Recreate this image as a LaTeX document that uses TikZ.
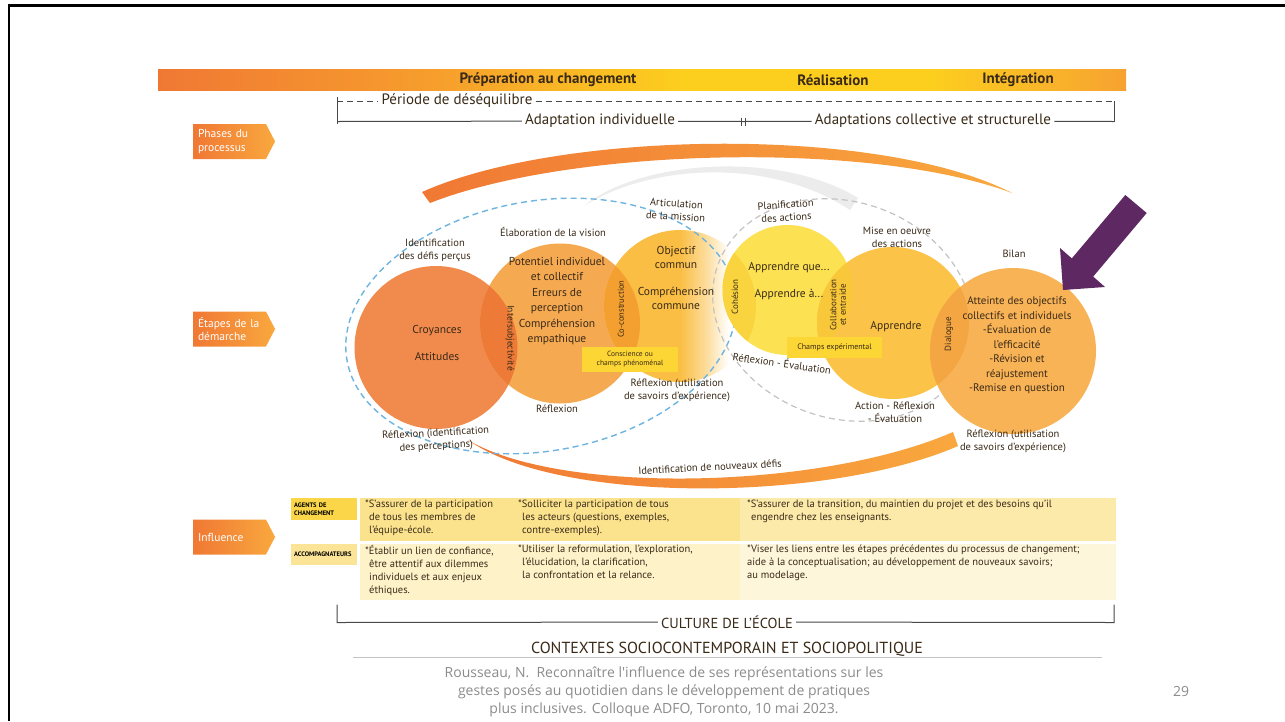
\documentclass[tikz,border=0pt]{standalone}
\usepackage{fontspec}
\setmainfont{PT Sans}
\newfontfamily\footfont{Open Sans}
\usetikzlibrary{positioning}
\usetikzlibrary{shapes}
\definecolor{d00}{RGB}{58,42,24}
\definecolor{d01}{RGB}{240,120,52}
\definecolor{d02}{RGB}{249,168,62}
\definecolor{d03}{RGB}{253,210,32}
\definecolor{d04}{RGB}{72,72,72}
\definecolor{d05}{RGB}{140,140,140}
\definecolor{d06}{RGB}{94,40,98}
\definecolor{d07}{RGB}{110,180,225}
\definecolor{d08}{RGB}{195,195,195}
\definecolor{d09}{RGB}{236,236,236}
\definecolor{b01}{RGB}{247,160,44}
\definecolor{b02}{RGB}{252,206,30}
\definecolor{b03}{RGB}{249,180,42}
\definecolor{b04}{RGB}{247,162,48}
\definecolor{k01}{RGB}{241,139,77}
\definecolor{k02}{RGB}{245,170,82}
\definecolor{k03}{RGB}{250,190,68}
\definecolor{k04}{RGB}{252,225,82}
\definecolor{k05}{RGB}{251,196,72}
\definecolor{k06}{RGB}{248,179,86}
\colorlet{k07}{k03!50!white}
\definecolor{l12}{RGB}{237,122,54}
\definecolor{l23}{RGB}{243,160,48}
\definecolor{l34}{RGB}{250,212,62}
\definecolor{l45}{RGB}{249,200,58}
\definecolor{l56}{RGB}{244,166,66}
\definecolor{y01}{RGB}{252,214,52}
\definecolor{t01}{RGB}{250,214,72}
\definecolor{t02}{RGB}{251,228,150}
\definecolor{t03}{RGB}{251,227,142}
\definecolor{t04}{RGB}{252,234,170}
\definecolor{t05}{RGB}{254,242,200}
\definecolor{t06}{RGB}{254,246,218}
\pgfdeclarehorizontalshading{barfill}{100bp}{color(0bp)=(d01); color(25bp)=(d01);
    color(40bp)=(b01); color(52bp)=(b02); color(65bp)=(b02); color(71bp)=(b03);
    color(75bp)=(b04); color(100bp)=(b04)}
\pgfdeclarehorizontalshading{fadec}{100bp}{color(0bp)=(k03); color(50bp)=(k03);
    color(59bp)=(k07); color(66bp)=(white); color(100bp)=(white)}
\newcommand{\fsz}[2]{\fontsize{#1}{#2}\selectfont}
\tikzstyle{tab} = [signal, signal to=east, signal pointer angle=125,
    minimum width=82, minimum height=35, inner sep=0, text width=63,
    align=left, left color=d01, right color=d02, text=white,
    font=\fsz{11.5}{13.5}]
\tikzstyle{circ} = [circle, inner sep=0]
\tikzstyle{hd} = [font=\bfseries\fsz{15}{17}, text=d00, inner sep=0]
\tikzstyle{brtxt} = [font=\fsz{15}{17}, text=d00, inner sep=3]
\tikzstyle{brk} = [draw=d04, line width=1]
\tikzstyle{dsh} = [dash pattern=on 6pt off 4pt, line width=1.4]
\tikzstyle{lbl} = [font=\fsz{10.5}{13}, text=d00, align=center, inner sep=0]
\tikzstyle{txt} = [font=\fsz{11.5}{14.5}, text=d00, align=center, inner sep=0]
\tikzstyle{lens} = [font=\fsz{9}{9.5}, text=d00, align=center, inner sep=0]
\tikzstyle{ybox} = [fill=y01, font=\fsz{7.5}{9}, text=d00, align=center,
    inner sep=0]
\tikzstyle{tag} = [font=\bfseries\fsz{6.5}{7.5}, text=black, align=left,
    anchor=north west, inner ysep=0, inner xsep=3, text width=60]
\tikzstyle{cell} = [font=\fsz{10.5}{13}, text=d00, align=left, inner sep=0,
    anchor=north west]

\begin{document}
\begin{tikzpicture}[x=1pt, y=-1pt]
     % ><>< =================== ><>< %
     % ><><    Frame and bar    ><>< %
     % ><>< =================== ><>< %
     \useasboundingbox (0,0) rectangle (1285,721);
     \fill [white] (0,0) rectangle (1285,721);
     \draw [line width=2.5, black] (9,721) -- (9,5.5) -- (1285,5.5);
     \node [shade, shading=barfill, minimum width=968, minimum height=21,
        inner sep=0] (bar) at (642,79.5) {};
     \node [hd] (ph1) at (548,80) {Préparation au changement};
     \node [hd] (ph2) at (833,80) {Réalisation};
     \node [hd] (ph3) at (1018,80) {Intégration};
     % ><>< =================== ><>< %
     \node [brtxt] (deseq) at (457,101) {Période de déséquilibre};
     \node [brtxt] (adInd) at (600,121) {Adaptation individuelle};
     \node [brtxt] (adCol) at (933,121) {Adaptations collective et structurelle};
     \coordinate (dL) at (337,101);
     \coordinate (dR) at (1114,101);
     \coordinate (sL) at (337,121.5);
     \coordinate (sM) at (743,121.5);
     \coordinate (sR) at (1114,121.5);
     \draw [brk, dashed, dash pattern=on 6pt off 4pt] (dL) -- (deseq);
     \draw [brk, dashed, dash pattern=on 6pt off 4pt] (deseq) -- (dR);
     \draw [brk] ([yshift=4]dL) -- ([yshift=-2.5]sL);
     \draw [brk] (dR) -- (sR);
     \draw [brk] (sL) -- (adInd);
     \draw [brk] (adInd) -- (sM) -- (adCol);
     \draw [brk] ([xshift=-2,yshift=4]sM) -- ([xshift=-2,yshift=-4]sM);
     \draw [brk] ([xshift=2,yshift=4]sM) -- ([xshift=2,yshift=-4]sM);
     \draw [brk] (adCol) -- (sR);
     % ><>< =================== ><>< %
     % ><><     Side tabs       ><>< %
     % ><>< =================== ><>< %
     \node [tab] (tPhase) at (229.5,141.5) {Phases du\\processus};
     \node [tab] (tEtape) at (229.5,329) {Étapes de la\\démarche};
     \node [tab] (tInfl) at (229.5,537) {Influence};
     % ><>< =================== ><>< %
     % ><><   Arcs and loops    ><>< %
     % ><>< =================== ><>< %
     \fill [d09] (584,206) .. controls (640,160) and (780,150) .. (858,198)
        -- (850,210) .. controls (770,157) and (650,164) .. cycle;
     \shade [left color=d01, middle color=d03, right color=d02]
        (422,192) .. controls (560,130) and (880,125) .. (1012,193)
        .. controls (870,140) and (570,148) .. (430,203) -- cycle;
     \shade [left color=d01, right color=d02]
        (468,440) .. controls (560,495) and (820,490) .. (953,432)
        -- (958,446) .. controls (830,502) and (560,505) .. cycle;
     % ><>< =================== ><>< %
     % ><><      Circles        ><>< %
     % ><>< =================== ><>< %
     \node [circ, fill=k01, minimum size=163] (cCroy) at (436,347.5) {};
     \node [circ, fill=k02, minimum size=160] (cVisi) at (560,323.5) {};
     \node [circ, shade, shading=fadec, minimum size=152] (cMiss) at (680,306) {};
     \draw [dsh, d07, rotate around={10:(541,326)}] (541,326)
        ellipse [x radius=197, y radius=125];
     \draw [dsh, d08, line width=1.2, rotate around={-20:(843,310)}] (843,310)
        ellipse [x radius=133, y radius=108];
     \node [circ, fill=k04, minimum size=130] (cPlan) at (787.5,290) {};
     \node [circ, fill=k05, minimum size=152] (cMise) at (893,323) {};
     \node [circ, fill=k06, minimum size=166] (cBila) at (1013,351) {};
     \begin{scope}
        \clip (cCroy.center) circle [radius=81.5];
        \fill [l12] (cVisi.center) circle [radius=80];
     \end{scope}
     \begin{scope}
        \clip (cVisi.center) circle [radius=80];
        \fill [l23] (cMiss.center) circle [radius=76];
     \end{scope}
     \begin{scope}
        \clip (cMiss.center) circle [radius=76];
        \fill [l34] (cPlan.center) circle [radius=65];
     \end{scope}
     \begin{scope}
        \clip (cPlan.center) circle [radius=65];
        \fill [l45] (cMise.center) circle [radius=76];
     \end{scope}
     \begin{scope}
        \clip (cMise.center) circle [radius=76];
        \fill [l56] (cBila.center) circle [radius=83];
     \end{scope}
     % ><>< =================== ><>< %
     % ><><    Circle texts     ><>< %
     % ><>< =================== ><>< %
     \node [txt] (tCroy) at (437,343) {Croyances\\[12.5pt]Attitudes};
     \node [txt] (tVisi) at (557,301) {Potentiel individuel\\et collectif\\[2pt]
        Erreurs de\\perception\\[2pt]Compréhension\\empathique};
     \node [txt] (tMiss) at (676,278) {Objectif\\commun\\[12pt]
        Compréhension\\commune};
     \node [txt] (tPlan) at (789,281.5) {Apprendre que...\\[12.5pt]Apprendre à...};
     \node [txt] (tMise) at (896,327) {Apprendre};
     \node [txt, font=\fsz{11}{14.5}] (tBila) at (1017,345.5)
        {Atteinte des objectifs\\collectifs et individuels\\-Évaluation de\\
         l'efficacité\\-Révision et\\réajustement\\-Remise en question};
     \node [lens, rotate=-90, font=\fsz{9.5}{10}] (nInter) at (510,338)
        {Intersubjectivité};
     \node [lens, rotate=90, font=\fsz{8.5}{9}] (nCoco) at (621,309)
        {Co-construction};
     \node [lens, rotate=90] (nCohe) at (735,297) {Cohésion};
     \node [lens, rotate=90] (nColl) at (838,305) {Collaboration\\et entraide};
     \node [lens, rotate=90] (nDial) at (949,334) {Dialogue};
     \node [ybox, minimum width=96, minimum height=25] (bCons) at (630,359.5)
        {Conscience ou\\champs phénoménal};
     \node [ybox, minimum width=95, minimum height=21, font=\fsz{8}{9}]
        (bExpe) at (834.5,347.5) {Champs expérimental};
     % ><>< =================== ><>< %
     % ><><   Labels round      ><>< %
     % ><>< =================== ><>< %
     \node [lbl] (nDefis) at (435,250) {Identification\\des défis perçus};
     \node [lbl] (nVisi) at (553,232) {Élaboration de la vision};
     \node [lbl, rotate=-4] (nMiss) at (676,210) {Articulation\\de la mission};
     \node [lbl, rotate=4] (nPlan) at (786,211) {Planification\\des actions};
     \node [lbl] (nMise) at (897,237) {Mise en oeuvre\\des actions};
     \node [lbl] (nBila) at (1014,254) {Bilan};
     \node [lbl, rotate=3] (nRef1) at (436,440)
        {Réflexion (identification\\des perceptions)};
     \node [lbl] (nRef2) at (557,409) {Réflexion};
     \node [lbl] (nRef3) at (677,390)
        {Réflexion (utilisation\\de savoirs d'expérience)};
     \node [lbl, rotate=-8] (nRef4) at (782,363) {Réflexion - Évaluation};
     \node [lbl] (nActi) at (895,412) {Action - Réflexion\\- Évaluation};
     \node [lbl] (nRef5) at (1013,441)
        {Réflexion (utilisation\\de savoirs d'expérience)};
     \node [lbl, rotate=3] (nNouv) at (710,467) {Identification de nouveaux défis};
     % purple pointer
     \fill [d06] (1125.3,195) -- (1146.7,213) -- (1093.2,276.6) -- (1105,287)
        -- (1063,290) -- (1060,248) -- (1071.8,258.4) -- cycle;
     % ><>< =================== ><>< %
     % ><><    Influence table  ><>< %
     % ><>< =================== ><>< %
     \fill [t03] (360,498) rectangle (740,541);
     \fill [t04] (740,498) rectangle (1116,541);
     \fill [t05] (360,543.5) rectangle (740,600);
     \fill [t06] (740,543.5) rectangle (1116,600);
     \node [tag, fill=t01, minimum height=22] (gAgnt) at (291,498)
        {AGENTS DE\\CHANGEMENT};
     \node [tag, fill=t02, minimum height=21] (gAcco) at (291,544)
        {ACCOMPAGNATEURS};
     \node [cell] (aC1) at (365,500) {*S'assurer de la participation\\
        \hspace*{4pt}de tous les membres de\\\hspace*{4pt}l'équipe-école.};
     \node [cell] (aC2) at (518,500) {*Solliciter la participation de tous\\
        \hspace*{4pt}les acteurs (questions, exemples,\\
        \hspace*{4pt}contre-exemples).};
     \node [cell] (aC3) at (747,500) {*S'assurer de la transition, du maintien
        du projet et des besoins qu'il\\\hspace*{4pt}engendre chez les enseignants.};
     \node [cell] (bC1) at (365,545) {*Établir un lien de confiance,\\
        \hspace*{4pt}être attentif aux dilemmes\\
        \hspace*{4pt}individuels et aux enjeux\\\hspace*{4pt}éthiques.};
     \node [cell] (bC2) at (518,545) {*Utiliser la reformulation, l'exploration,\\
        \hspace*{4pt}l'élucidation, la clarification,\\
        \hspace*{4pt}la confrontation et la relance.};
     \node [cell] (bC3) at (747,545) {*Viser les liens entre les étapes précédentes
        du processus de changement;\\aide à la conceptualisation; au développement
        de nouveaux savoirs;\\au modelage.};
     % ><>< =================== ><>< %
     % ><><   Bottom brackets   ><>< %
     % ><>< =================== ><>< %
     \node [font=\fsz{14.5}{16}, text=d00, inner sep=3] (nCult) at (727,622)
        {CULTURE DE L'ÉCOLE};
     \coordinate (cuL) at (337,622.5);
     \coordinate (cuR) at (1114,622.5);
     \draw [brk] ([yshift=18]cuL) -- (cuL) -- (nCult);
     \draw [brk] (nCult) -- (cuR) -- ([yshift=18]cuR);
     \node [font=\fsz{16}{18}, text=d00, inner sep=0] (nCont) at (727,649)
        {CONTEXTES SOCIOCONTEMPORAIN ET SOCIOPOLITIQUE};
     \coordinate (coL) at (353,657.5);
     \coordinate (coR) at (1102,657.5);
     \draw [d08, line width=1.5] (coL) -- (coR);
     \node [font=\footfont\fsz{14}{18}, text=d05, align=center] (nRefr)
        at (664,692) {Rousseau, N.\ \ Reconnaître l'influence de ses
        représentations sur les\\gestes posés au quotidien dans le
        développement de pratiques\\plus inclusives. Colloque ADFO, Toronto,
        10 mai 2023.};
     \node [font=\footfont\fsz{14}{15}, text=d05] (nPage) at (1181,691) {29};
\end{tikzpicture}
\end{document}
